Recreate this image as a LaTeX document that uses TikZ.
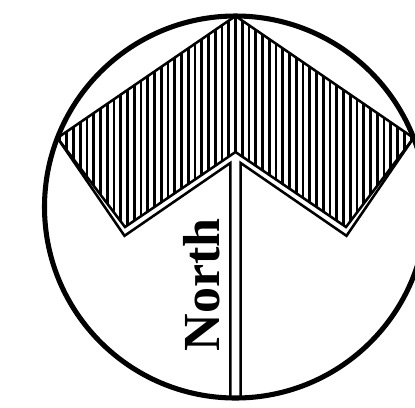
\documentclass[tikz,border=0pt]{standalone}
\usepackage{fontspec}
\setmainfont{Liberation Serif}
\tikzset{
  compassring/.style={
    draw=black,
    line width=3.6pt
  },
  headedge/.style={
    draw=black,
    line width=1.8pt,
    line join=miter
  },
  hatchline/.style={
    draw=black,
    line width=1.8pt
  }
}

\begin{document}
\begin{tikzpicture}[x=1cm,y=1cm]

  % Frame of the picture; the ring is cut off on the right.
  \useasboundingbox (-5.8875,-5.0) rectangle (4.4875,5.175);

  % Centre of the ring and the corners of the chevron head.
  \coordinate (O)  at (0,0);
  \coordinate (A)  at (90:4.775);
  \coordinate (L)  at (158.8:4.775);
  \coordinate (R)  at (21.2:4.775);
  \coordinate (BL) at (-2.7625,-0.50);
  \coordinate (BR) at ( 2.7625,-0.50);
  \coordinate (V)  at (0,1.375);

  % Second edge below the head, which turns into the shaft.
  \coordinate (OL) at (-2.775,-0.72);
  \coordinate (OR) at ( 2.775,-0.72);
  \coordinate (SL) at (-0.13,1.10);
  \coordinate (SR) at ( 0.13,1.10);
  \coordinate (EL) at (-0.13,-4.77);
  \coordinate (ER) at ( 0.13,-4.77);

  % Vertical hatching, clipped to the head.
  \begin{scope}
    \clip (A) -- (R) -- (BR) -- (V) -- (BL) -- (L) -- cycle;
    \foreach \k in {-27,...,27}
      \draw[hatchline] (\k*0.16875,-1) -- (\k*0.16875,5);
  \end{scope}

  % Outline of the head.
  \draw[headedge] (A) -- (R) -- (BR) -- (V) -- (BL) -- (L) -- cycle;

  % Double line of the shaft, joined to the second edge.
  \draw[headedge] (L) -- (OL) -- (SL) -- (EL);
  \draw[headedge] (R) -- (OR) -- (SR) -- (ER);

  % Ring round the whole sign.
  \draw[compassring] (O) circle[radius=4.775];

  % Label along the shaft.
  \node[rotate=90,anchor=base,inner sep=0pt,
        font=\bfseries\fontsize{37}{41}\selectfont] (north) at (-0.39,-1.95) {North};

\end{tikzpicture}
\end{document}
